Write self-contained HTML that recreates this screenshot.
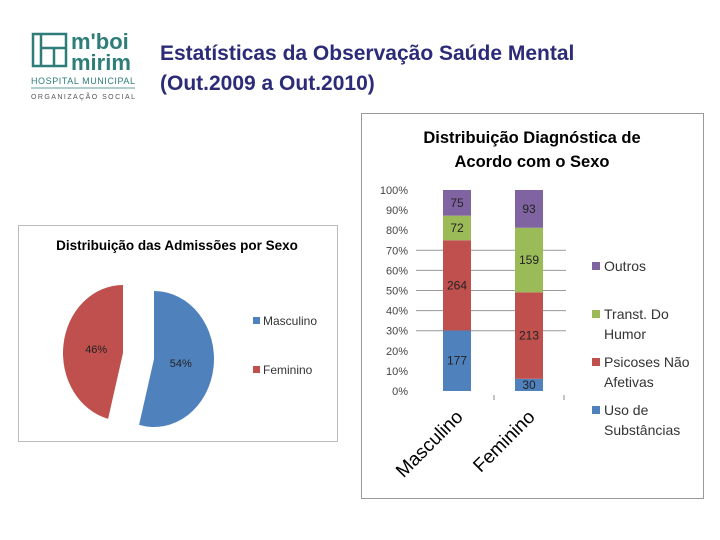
<!DOCTYPE html>
<html><head><meta charset="utf-8"><style>
body{margin:0;width:720px;height:540px;background:#fff;position:relative;overflow:hidden;font-family:"Liberation Sans",sans-serif}
.abs{position:absolute}
</style></head><body>
<svg class="abs" style="left:0;top:0" width="720" height="540">
  <g fill="none" stroke="#2e7d78" stroke-width="2.5">
    <rect x="33" y="34" width="33" height="32"/>
    <line x1="41" y1="34" x2="41" y2="66"/>
    <line x1="41" y1="48" x2="66" y2="48"/>
    <line x1="54" y1="48" x2="54" y2="66"/>
  </g>
  <text x="71" y="49" font-size="22" font-weight="bold" fill="#2e7d78">m'boi</text>
  <text x="71" y="70" font-size="22" font-weight="bold" fill="#2e7d78">mirim</text>
  <text x="31" y="84" font-size="9" fill="#2e7d78" textLength="104">HOSPITAL MUNICIPAL</text>
  <line x1="31" y1="88" x2="135" y2="88" stroke="#2e7d78" stroke-width="0.8"/>
  <text x="31" y="99" font-size="7" fill="#555" textLength="104">ORGANIZAÇÃO SOCIAL</text>
  <text x="160" y="60" font-size="21" font-weight="bold" fill="#2b2b78">Estatísticas da Observação Saúde Mental</text>
  <text x="160" y="90" font-size="21" font-weight="bold" fill="#2b2b78">(Out.2009 a Out.2010)</text>

  <rect x="18.5" y="225.5" width="319" height="216" fill="#fff" stroke="#bbb"/>
  <text x="177" y="250" font-size="13.5" font-weight="bold" text-anchor="middle" fill="#000">Distribuição das Admissões por Sexo</text>
  <g id="pie"></g>
  <rect x="253" y="317" width="7" height="7" fill="#4f81bd"/>
  <text x="263" y="325" font-size="12" fill="#333">Masculino</text>
  <rect x="253" y="366" width="7" height="7" fill="#c0504d"/>
  <text x="263" y="374" font-size="12" fill="#333">Feminino</text>

  <rect x="361.5" y="113.5" width="342" height="385" fill="#fff" stroke="#999"/>
  <text x="532" y="143" font-size="16.5" font-weight="bold" text-anchor="middle" fill="#000">Distribuição Diagnóstica de</text>
  <text x="532" y="167" font-size="16.5" font-weight="bold" text-anchor="middle" fill="#000">Acordo com o Sexo</text>
  <g id="bars"></g>
  <g id="legend" font-size="14" fill="#333"></g>
</svg>
<script>
const pieLabels=["Masculino","Feminino"];
const pieValues=[54,46];
const categories=["Masculino","Feminino"];
const seriesNames=["Uso de Substâncias","Psicoses Não Afetivas","Transt. Do Humor","Outros"];
const seriesColors=["#4f81bd","#c0504d","#9bbb59","#8064a2"];
const usoValues=[177,30];
const psicosesValues=[264,213];
const humorValues=[72,159];
const outrosValues=[75,93];
const yTicks=["0%","10%","20%","30%","40%","50%","60%","70%","80%","90%","100%"];
const NS="http://www.w3.org/2000/svg";
function mk(t,a,p){const e=document.createElementNS(NS,t);for(const k in a)e.setAttribute(k,a[k]);p.appendChild(e);return e;}

const pie=document.getElementById('pie');
const total=pieValues.reduce((a,b)=>a+b,0);
const centers=[[154,359],[123,353]];
const pcol=["#4f81bd","#c0504d"];
let start=0;
pieValues.forEach((v,i)=>{
  const a0=start/total*2*Math.PI, a1=(start+v)/total*2*Math.PI;
  const [cx,cy]=centers[i], rx=60, ry=68;
  const x0=cx+rx*Math.sin(a0), y0=cy-ry*Math.cos(a0), x1=cx+rx*Math.sin(a1), y1=cy-ry*Math.cos(a1);
  const large=(a1-a0)>Math.PI?1:0;
  const p=mk('path',{d:`M${cx},${cy}L${x0},${y0}A${rx},${ry} 0 ${large} 1 ${x1},${y1}Z`,fill:pcol[i]},pie);
  
  
  const am=(a0+a1)/2;
  const t=mk('text',{x:cx+rx*0.45*Math.sin(am),y:cy-ry*0.45*Math.cos(am)+4,'font-size':11,'text-anchor':'middle',fill:'#222'},pie);
  t.textContent=Math.round(v/total*100)+'%';
  
  
  start+=v;
});

const g=document.getElementById('bars');
const y0=391,y100=190;
const yScale=p=>y0-(y0-y100)*p;
yTicks.forEach((lab,i)=>{
  const y=yScale(i/10);
  if(i>=3&&i<=7){const l=mk('line',{x1:416,x2:566,y1:y,y2:y,stroke:'#999','stroke-width':1},g);
    }
  const t=mk('text',{x:408,y:y+4,'font-size':11,'text-anchor':'end',fill:'#444'},g);
  t.textContent=lab;
  
  
});
[494,564].forEach(x=>{mk('line',{x1:x,x2:x,y1:395,y2:400,stroke:'#888'},g);});
const series=[usoValues,psicosesValues,humorValues,outrosValues];
const xLeft=[443,515], bw=28;
categories.forEach((c,ci)=>{
  const tot=series.reduce((s,a)=>s+a[ci],0);
  let acc=0;
  series.forEach((arr,si)=>{
    const yb=yScale(acc/tot), yt=yScale((acc+arr[ci])/tot);
    const r=mk('rect',{x:xLeft[ci],y:yt,width:bw,height:yb-yt,fill:seriesColors[si]},g);
    
    
    const t=mk('text',{x:xLeft[ci]+bw/2,y:(yt+yb)/2+4,'font-size':12,'text-anchor':'middle',fill:'#222'},g);
    t.textContent=arr[ci];
    
    
    acc+=arr[ci];
  });
  const cx=xLeft[ci]+bw/2;
  const t=mk('text',{x:0,y:0,'font-size':19,'text-anchor':'end',fill:'#000',transform:`translate(${cx+7},${418}) rotate(-45)`},g);
  t.textContent=c;
  
  
});

const lg=document.getElementById('legend');
const legItems=[["Outros"],["Transt. Do","Humor"],["Psicoses Não","Afetivas"],["Uso de","Substâncias"]];
const legColors=["#8064a2","#9bbb59","#c0504d","#4f81bd"];
const legY=[271,319,367,415];
legItems.forEach((lines,i)=>{
  const r=mk('rect',{x:592,y:legY[i]-9,width:8,height:8,fill:legColors[i]},lg);
  
  
  lines.forEach((ln,j)=>{
    const t=mk('text',{x:604,y:legY[i]+j*20},lg);
    t.textContent=ln;
    
    
  });
});
</script>
</body></html>
